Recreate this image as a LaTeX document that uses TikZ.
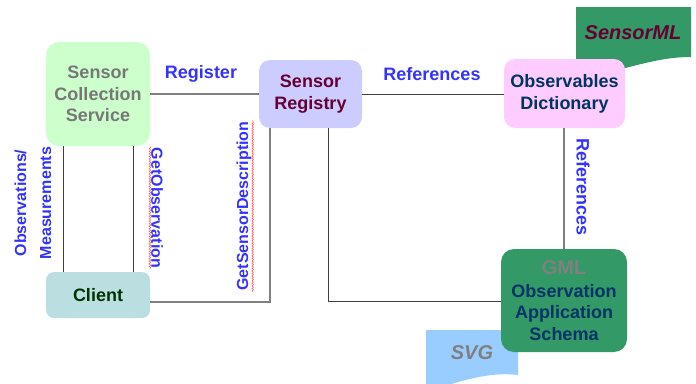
\documentclass[tikz,border=0pt]{standalone}
\usepackage{fontspec}
\setmainfont{Liberation Sans}
\usetikzlibrary{decorations.pathmorphing}

\definecolor{scsfill}{HTML}{CCFFCC}
\definecolor{scstext}{HTML}{777777}
\definecolor{srfill}{HTML}{CCCCFF}
\definecolor{srtext}{HTML}{660033}
\definecolor{odfill}{HTML}{FFCCFF}
\definecolor{odtext}{HTML}{003366}
\definecolor{clientfill}{HTML}{BBDFE0}
\definecolor{clienttext}{HTML}{003300}
\definecolor{gmlfill}{HTML}{339966}
\definecolor{gmlgray}{HTML}{808080}
\definecolor{svgfill}{HTML}{99CCFF}
\definecolor{lblue}{HTML}{3333FF}
\definecolor{wiredark}{HTML}{404040}
\definecolor{wirelight}{HTML}{808080}
\definecolor{squigred}{HTML}{FF6666}

\tikzset{
  box/.style={rounded corners=11pt, align=center, inner sep=0pt,
    font=\bfseries\fontsize{18}{22}\selectfont},
  lbl/.style={text=lblue, inner sep=1pt, font=\bfseries\fontsize{18}{21}\selectfont},
  vlbl/.style={text=lblue, inner sep=1pt, font=\bfseries\fontsize{16}{25}\selectfont},
  banner/.style={font=\bfseries\itshape\fontsize{20}{24}\selectfont, inner sep=0pt},
  wire/.style={draw=wiredark, line width=0.8pt},
  wirelt/.style={draw=wirelight, line width=1.2pt},
  squiggle/.style={draw=squigred, line width=0.6pt,
    decorate, decoration={snake, amplitude=0.8pt, segment length=2.5pt}},
}

\begin{document}
\begin{tikzpicture}[x=1pt, y=-1pt]
\useasboundingbox (0,0) rectangle (696,383);

% document-style banners (drawn first, boxes overlap them)
\fill[gmlfill] (576,7) -- (691,7) -- (691,57)
  .. controls (665,57) and (645,63) .. (610,72)
  .. controls (595,75) and (583,71) .. (576,66) -- cycle;
\node[banner, text=srtext] (sensorml) at (633,33) {SensorML};

\fill[svgfill] (426,330) -- (518,330) -- (518,375)
  .. controls (495,372) and (470,378) .. (445,386)
  -- (426,386) -- cycle;
\node[banner, text=gmlgray] (svg) at (472,353) {SVG};

% components
\node[box, fill=scsfill, text=scstext, rounded corners=13pt,
  minimum width=104pt, minimum height=104pt,
  font=\bfseries\fontsize{18}{21.5}\selectfont] (scs) at (98,94)
  {Sensor\\Collection\\Service};
\node[box, fill=srfill, text=srtext,
  minimum width=103pt, minimum height=68pt] (sr) at (310.5,94)
  {Sensor\\Registry};
\node[box, fill=odfill, text=odtext,
  minimum width=121pt, minimum height=69pt] (od) at (564.5,93.5)
  {Observables\\Dictionary};
\node[box, fill=clientfill, text=clienttext, rounded corners=8pt,
  minimum width=104pt, minimum height=46pt] (client) at (98,295)
  {Client};
\node[box, fill=gmlfill, text=odtext, rounded corners=13pt,
  minimum width=126pt, minimum height=103pt,
  font=\bfseries\fontsize{18}{21.5}\selectfont] (gml) at (564,300.5)
  {\textcolor{gmlgray}{\fontsize{20}{24}\selectfont GML}\\[1pt]Observation\\Application\\Schema};

% routing points
\coordinate (xa) at (63,0);
\coordinate (xb) at (133,0);
\coordinate (j1) at (270,302);
\coordinate (j2) at (328,301);

% connectors
\draw[wirelt] (scs.east) -- (sr.west);
\draw[wire] (sr.east) -- (sr.east -| od.west);
\draw[wirelt] (od.south -| gml.north) -- (gml.north);
\draw[wire] (scs.south -| xa) -- (client.north -| xa);
\draw[wire] (scs.south -| xb) -- (client.north -| xb);
\draw[wirelt] (client.east |- j1) -- (j1) -- (sr.south -| j1);
\draw[wire] (sr.south -| j2) -- (j2) -- (gml.west |- j2);

% connector labels
\node[lbl] (lreg) at (201,74) {Register};
\node[lbl] (lref) at (432,74) {References};
\node[lbl, rotate=-90] (lref2) at (583,187) {References};
\node[vlbl, rotate=90, align=center] (lobs) at (33,203) {Observations/\\Measurements};
\node[vlbl, rotate=-90] (lgo) at (157,208) {GetObservation};
\node[vlbl, rotate=90] (lgsd) at (244,206) {GetSensorDescription};

% spell-check underlines
\draw[squiggle] (lgo.south west) -- (lgo.south east);
\draw[squiggle] (lgsd.south west) -- (lgsd.south east);
\end{tikzpicture}
\end{document}
